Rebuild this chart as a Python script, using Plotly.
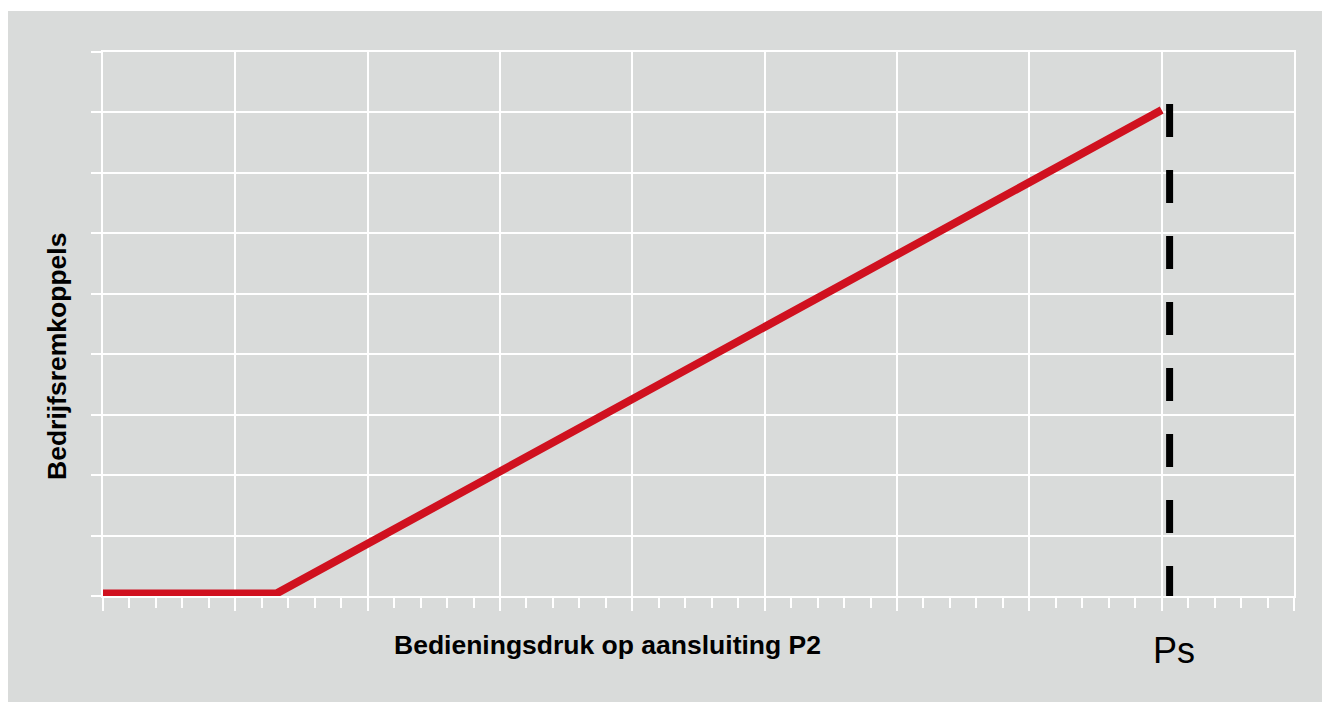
import plotly.graph_objects as go

# Data (axis units = grid cells)
torque_x = [0.0, 1.31, 8.0]
torque_y = [0.04, 0.04, 8.04]
ps_x = [8.06, 8.06]
ps_y = [8.14, 0.0]
x_title = "Bedieningsdruk op aansluiting P2"
y_title = "Bedrijfsremkoppels"
ps_label = "Ps"

GRAY = "#d9dbda"
RED = "#d0111f"

fig = go.Figure()
fig.add_trace(go.Scatter(x=torque_x, y=torque_y, mode="lines",
                         line=dict(color=RED, width=8), hoverinfo="skip"))
fig.add_trace(go.Scatter(x=ps_x, y=ps_y, mode="lines",
                         line=dict(color="black", width=7, dash="33px,33px"), hoverinfo="skip"))

# figure fills the whole window (body margin removed below)
W, H = 1322, 702
L, R, T, B = 103, 1294, 52, 596
pw, ph = R - L, B - T

def px(x):
    return (x - L) / pw

def py(y):
    return (B - y) / ph

FONT = "Liberation Sans, Arial, sans-serif"

fig.update_layout(
    width=W, height=H,
    margin=dict(l=L, r=W - R, t=T, b=H - B),
    paper_bgcolor=GRAY, plot_bgcolor=GRAY,
    showlegend=False,
    xaxis=dict(range=[0, 9], dtick=1, showgrid=True, gridcolor="white", gridwidth=2,
               zeroline=False, showticklabels=False, ticks="outside", ticklen=13,
               tickcolor="white", tickwidth=2, showline=True, linecolor="white",
               linewidth=2, mirror=True, fixedrange=True,
               minor=dict(dtick=0.2, ticks="outside", ticklen=10, tickcolor="white",
                          tickwidth=2, showgrid=False)),
    yaxis=dict(range=[0, 9], dtick=1, showgrid=True, gridcolor="white", gridwidth=2,
               zeroline=False, showticklabels=False, ticks="outside", ticklen=10,
               tickcolor="white", tickwidth=2, showline=True, linecolor="white",
               linewidth=2, mirror=True, fixedrange=True),
    shapes=[
        dict(type="rect", xref="paper", yref="paper", x0=px(-5), x1=px(W + 5),
             y0=py(11), y1=py(-5), fillcolor="white", line=dict(width=0)),
        dict(type="rect", xref="paper", yref="paper", x0=px(-5), x1=px(8),
             y0=py(H + 5), y1=py(-5), fillcolor="white", line=dict(width=0)),
    ],
    annotations=[
        dict(text=f"<b>{x_title}</b>", xref="paper", yref="paper", x=px(607.5), y=py(645),
             xanchor="center", yanchor="middle", showarrow=False,
             font=dict(family=FONT, size=26.5, color="black")),
        dict(text=f"<b>{y_title}</b>", xref="paper", yref="paper", x=px(57), y=py(357),
             xanchor="center", yanchor="middle", showarrow=False, textangle=-90,
             font=dict(family=FONT, size=26.5, color="black")),
        dict(text=ps_label, xref="paper", yref="paper", x=px(1174), y=py(650),
             xanchor="center", yanchor="middle", showarrow=False,
             font=dict(family=FONT, size=36, color="black")),
    ],
)

fig.write_html(
    "out.html",
    config={"displayModeBar": False},
    post_script=(
        "document.body.style.margin='0';"
        "document.documentElement.style.overflow='hidden';"
        "document.body.style.overflow='hidden';"
        f"document.body.style.background='{GRAY}';"
        f"document.documentElement.style.background='{GRAY}';"
    ),
)
